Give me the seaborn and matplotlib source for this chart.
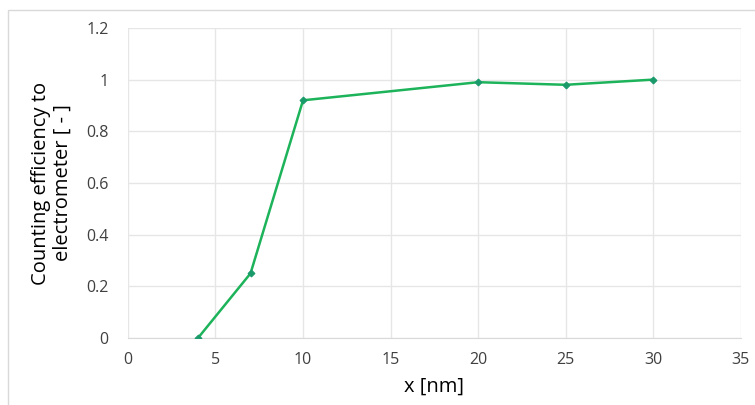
import numpy as np
import pandas as pd
import matplotlib
matplotlib.use('Agg')
import matplotlib.pyplot as plt
import seaborn as sns
from matplotlib.patches import Rectangle

x_nm = [4, 7, 10, 20, 25, 30]
efficiency = [0.0, 0.25, 0.92, 0.99, 0.98, 1.0]
x_ticks = [0, 5, 10, 15, 20, 25, 30, 35]
y_ticks = [0, 0.2, 0.4, 0.6, 0.8, 1.0, 1.2]
y_labels = ['0', '0.2', '0.4', '0.6', '0.8', '1', '1.2']

sns.set_style('white')
plt.rcParams['font.family'] = ['Open Sans', 'DejaVu Sans']

dados = pd.DataFrame({'x': x_nm, 'eff': efficiency})

fig = plt.figure(figsize=(7.55, 4.05), dpi=100)
ax = fig.add_axes([0.1695, 0.1654, 0.8115, 0.7656])

sns.lineplot(data=dados, x='x', y='eff', ax=ax, color='#1db35a', linewidth=1.8,
             marker='D', markersize=3.5, markerfacecolor='#1a9a6a',
             markeredgecolor='#1a9a6a', zorder=3)

ax.set_xlim(0, 35)
ax.set_ylim(0, 1.2)
ax.set_xticks(x_ticks)
ax.set_yticks(y_ticks)
ax.set_yticklabels(y_labels)
ax.grid(True, color='#e6e6e6', linewidth=1)
for lado in ['top', 'right', 'left']:
    ax.spines[lado].set_visible(False)
ax.spines['bottom'].set_color('#d9d9d9')
ax.tick_params(axis='both', length=0, labelsize=11.5, colors='#404040')
ax.tick_params(axis='x', pad=10)
ax.tick_params(axis='y', pad=14)
ax.set_xlabel('x [nm]', fontsize=14.5, color='black', labelpad=6)
ax.set_ylabel('Counting efficiency to\nelectrometer [ - ]', fontsize=14.5, color='black',
              labelpad=10, multialignment='center', linespacing=1.1)

fig.patches.append(Rectangle((8 / 755, -0.01), 1.0, (405 - 10) / 405 + 0.01,
                             transform=fig.transFigure, fill=False,
                             edgecolor='#d9d9d9', linewidth=1))

fig.savefig('out.png', dpi=100)
